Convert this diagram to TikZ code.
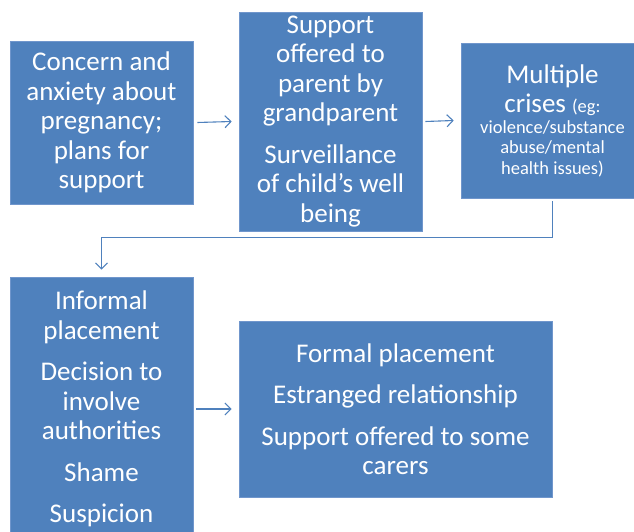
\documentclass[tikz,border=0pt]{standalone}
\usepackage{fontspec}
\setmainfont{Carlito}
\usetikzlibrary{arrows.meta}
\definecolor{boxblue}{RGB}{79,129,189}
\definecolor{edgeblue}{RGB}{112,150,204}
\newcommand\bigtext{\fontsize{27}{29.5}\selectfont}
\newcommand\smalltext{\fontsize{18.5}{20.5}\selectfont}
\tikzset{
  stagebox/.style={fill=boxblue, draw=edgeblue, line width=0.6pt, text=white,
    align=center, font=\bigtext, inner sep=0pt},
  flow/.style={draw=boxblue, line width=1.1pt, -{Straight Barb[length=6pt,width=12pt]}},
}
\begin{document}
\begin{tikzpicture}[x=1pt,y=-1pt]
\clip (0,0) rectangle (634,532);

% stages of the caring relationship
\node[stagebox, minimum width=183pt, minimum height=163pt] (concern) at (101.5,122.5)
  {Concern and\\anxiety about\\pregnancy;\\plans for\\support};
\node[stagebox, minimum width=183pt, minimum height=219pt] (support) at (330.5,121.5)
  {Support\\offered to\\parent by\\grandparent\\[12pt]Surveillance\\of child’s well\\being};
\node[stagebox, minimum width=183pt, minimum height=155pt] (crises) at (552.5,120.5)
  {\parbox{180pt}{\centering Multiple\par crises {\smalltext (eg:}\par
   \smalltext violence/substance\par abuse/mental\par health issues)}};
\node[stagebox, minimum width=183pt, minimum height=264pt] (informal) at (101.5,409)
  {Informal\\placement\\[12pt]Decision to\\involve\\authorities\\[12pt]Shame\\[12pt]Suspicion};
\node[stagebox, minimum width=313pt, minimum height=176pt] (formal) at (395.5,409)
  {Formal placement\\[12pt]Estranged relationship\\[12pt]Support offered to some\\carers};

% connectors
\draw[flow] ([xshift=4pt]concern.east) -- ([xshift=-7pt]support.west);
\draw[flow] ([xshift=3pt]support.east) -- ([xshift=-7pt]crises.west);
\draw[flow] ([yshift=-3pt]crises.south) -- ++(0,36) -| ([yshift=7pt]informal.north);
\draw[flow] ([xshift=3pt]informal.east) -- ([xshift=-7pt]formal.west);
\end{tikzpicture}
\end{document}
